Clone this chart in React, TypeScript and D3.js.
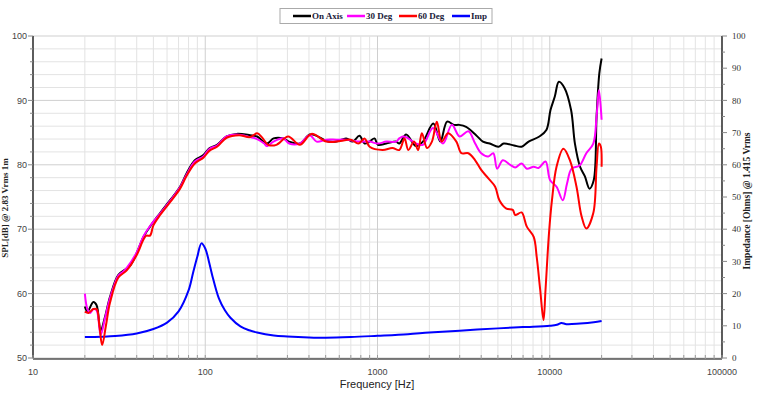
import React from 'react';
import * as d3 from 'd3';

// [frequency Hz, dB SPL]
const onAxis: [number, number][] = [
  [20, 58.0], [20.7, 57.2], [22.4, 58.7], [23.4, 58.2], [24.7, 54.3], [26.2, 56.4], [28, 59.5],
  [31.3, 62.9], [35, 63.9], [37, 64.5], [40, 66.3], [43.8, 68.8], [47.8, 70.4], [54.7, 72.5],
  [62.5, 74.5], [71.4, 76.6], [78, 78.7], [87, 80.7], [97.5, 81.5], [106, 82.6], [117, 83.1],
  [133, 84.4], [152, 84.8], [182, 84.6], [200, 84.4], [228, 83.3], [249, 84.1], [284, 84.1],
  [307, 83.6], [354, 83.3], [404, 84.7], [443, 84.5], [505, 83.7], [576, 83.6], [658, 84.1],
  [717, 83.6], [786, 84.5], [841, 83.3], [899, 83.6], [961, 84.1], [1005, 83.1], [1124, 83.3],
  [1283, 83.6], [1338, 83.3], [1466, 84.7], [1675, 82.9], [1834, 83.6], [2109, 86.4], [2315, 83.6],
  [2536, 86.7], [2778, 86.2], [2981, 86.2], [3270, 85.9], [3736, 84.6], [4093, 83.6], [4482, 83.3],
  [5035, 82.8], [5402, 83.3], [6206, 83.0], [6863, 82.8], [7536, 83.6], [8706, 84.4], [9556, 85.4],
  [10100, 88.5], [10700, 90.6], [11300, 92.9], [12200, 91.9], [13300, 88.5], [14000, 83.3],
  [15000, 79.7], [16000, 78.2], [17000, 76.3], [18000, 77.6], [18700, 87.5], [19400, 94.2], [20000, 96.5],
];

const deg30: [number, number][] = [
  [20, 60.0], [20.7, 57.6], [21.5, 57.0], [22.4, 57.6], [23.4, 57.4], [24.7, 53.6], [26.2, 56.2],
  [28, 59.3], [31.3, 62.8], [33, 63.3], [35, 64.0], [40, 66.4], [43.8, 68.9], [47.8, 70.5],
  [54.7, 72.4], [62.5, 74.4], [71.4, 76.5], [78, 78.5], [87, 80.5], [97.5, 81.3], [106, 82.5],
  [117, 83.0], [133, 84.4], [152, 84.7], [182, 84.3], [200, 84.0], [220, 83.3], [228, 82.9],
  [249, 83.6], [284, 84.1], [307, 83.3], [354, 83.3], [404, 84.6], [443, 83.6], [505, 83.9],
  [576, 83.9], [658, 83.9], [786, 83.6], [899, 83.6], [1005, 83.3], [1124, 83.6], [1283, 83.6],
  [1338, 84.1], [1400, 84.4], [1466, 84.3], [1675, 83.3], [1834, 83.1], [2100, 85.7], [2400, 83.3],
  [2700, 86.2], [3000, 84.4], [3370, 85.2], [3690, 83.3], [4000, 81.8], [4400, 81.3], [4700, 81.8],
  [4950, 79.4], [5340, 80.7], [5900, 80.0], [6300, 79.6], [6860, 80.2], [7360, 79.4], [8070, 79.7],
  [8600, 79.5], [9450, 80.5], [10050, 77.6], [10950, 76.6], [11900, 74.5], [12600, 77.1],
  [13400, 79.4], [14900, 79.9], [16300, 81.8], [17900, 83.3], [18700, 87.5], [19300, 91.6], [20000, 87.0],
];

const deg60: [number, number][] = [
  [20, 57.2], [21, 57.0], [22.4, 57.6], [23.4, 57.6], [24.3, 55.0], [25.2, 52.0], [26.5, 55.0],
  [28, 58.6], [31.3, 62.5], [35, 63.6], [40, 66.0], [43.8, 68.4], [45.5, 69.0], [47.8, 69.0],
  [50, 70.6], [54.7, 72.2], [62.5, 74.2], [71.4, 76.3], [78, 78.3], [87, 80.2], [97.5, 81.1],
  [106, 82.2], [117, 82.8], [133, 84.2], [157, 84.6], [182, 84.3], [200, 84.9], [213, 84.3],
  [232, 83.1], [259, 83.1], [303, 84.4], [354, 83.1], [414, 84.8], [505, 83.6], [610, 83.7],
  [700, 83.9], [775, 83.3], [841, 84.1], [900, 82.8], [1070, 82.3], [1220, 82.6], [1338, 82.3],
  [1435, 84.1], [1510, 82.3], [1630, 83.6], [1720, 82.3], [1810, 84.9], [1940, 82.6], [2070, 83.6],
  [2210, 86.7], [2360, 83.6], [2570, 84.9], [2870, 83.6], [3070, 81.8], [3370, 81.8], [3690, 80.7],
  [4000, 79.2], [4400, 77.9], [4820, 76.6], [5100, 74.5], [5600, 73.2], [6100, 73.0], [6300, 72.2],
  [6860, 72.6], [7360, 70.4], [8070, 68.8], [8400, 65.7], [8800, 60.6], [9200, 55.9], [9450, 60.6],
  [9900, 69.4], [10300, 74.5], [10950, 79.7], [12000, 82.5], [13100, 80.7], [14300, 76.6],
  [15300, 72.0], [16300, 70.1], [17900, 72.5], [18700, 79.7], [19300, 83.3], [19800, 82.8], [20000, 79.7],
];

// [frequency Hz, Ohms]
const impedance: [number, number][] = [
  [20, 6.5], [25, 6.6], [30, 6.8], [40, 7.6], [50, 9.0], [60, 11.0], [70, 14.5], [80, 21.0],
  [85, 26.5], [90, 31.5], [95, 35.6], [100, 34.0], [105, 30.0], [110, 25.5], [120, 18.5],
  [130, 14.8], [140, 12.5], [160, 9.8], [180, 8.6], [200, 7.9], [250, 7.0], [300, 6.7],
  [400, 6.4], [500, 6.3], [700, 6.5], [1000, 6.9], [1500, 7.4], [2000, 7.9], [3000, 8.5],
  [5000, 9.2], [7000, 9.6], [10000, 10.0], [11000, 10.3], [11700, 10.9], [12500, 10.5],
  [15000, 10.7], [18000, 11.1], [20000, 11.5],
];

const freqTicks = [10, 100, 1000, 10000, 100000];
const splTicks = [50, 60, 70, 80, 90, 100];
const impTicks = [0, 10, 20, 30, 40, 50, 60, 70, 80, 90, 100];

const series = [
  { name: 'On Axis', color: '#000000' },
  { name: '30 Deg', color: '#ff00ff' },
  { name: '60 Deg', color: '#ff0000' },
  { name: 'Imp', color: '#0000ff' },
];

const W = 761;
const H = 396;
const L = 33, R = 722, T = 36, B = 358;
const SERIF = '"Liberation Serif", "Times New Roman", serif';
const SANS = '"Liberation Sans", Arial, sans-serif';

export default function App() {
  const x = d3.scaleLog().domain([10, 100000]).range([L, R]);
  const ySpl = d3.scaleLinear().domain([50, 100]).range([B, T]);
  const yImp = d3.scaleLinear().domain([0, 100]).range([B, T]);

  const splLine = d3.line<[number, number]>()
    .x(d => x(d[0]))
    .y(d => ySpl(d[1]))
    .curve(d3.curveCatmullRom.alpha(0.5));
  const impLine = d3.line<[number, number]>()
    .x(d => x(d[0]))
    .y(d => yImp(d[1]))
    .curve(d3.curveCatmullRom.alpha(0.5));

  const minorX = x.ticks();
  const minorY = d3.range(50, 100.1, 2);

  // legend layout
  const legX = [293, 347, 399, 452];

  return (
    <svg width={W} height={H} style={{ position: 'absolute', left: 0, top: 0, background: '#fff' }}>
      {/* grid */}
      <g>
        {minorY.map(v => (
          <line key={'h' + v} x1={L} x2={R} y1={ySpl(v)} y2={ySpl(v)}
            stroke={v % 10 === 0 ? '#cfcfcf' : '#e3e3e3'} strokeWidth={1} />
        ))}
        {minorX.map(v => (
          <line key={'v' + v} x1={x(v)} x2={x(v)} y1={T} y2={B}
            stroke={freqTicks.includes(v) ? '#cfcfcf' : '#e3e3e3'} strokeWidth={1} />
        ))}
      </g>

      {/* axes lines */}
      <line x1={L} x2={L} y1={T} y2={B} stroke="#000" strokeWidth={1.2} />
      <line x1={R} x2={R} y1={T} y2={B} stroke="#000" strokeWidth={1.2} />
      <line x1={L} x2={R} y1={B + 1} y2={B + 1} stroke="#000" strokeWidth={1.2} />

      {/* left ticks */}
      {minorY.map(v => (
        <line key={'lt' + v} x1={L - (v % 10 === 0 ? 5 : 3)} x2={L} y1={ySpl(v)} y2={ySpl(v)} stroke="#888" />
      ))}
      {splTicks.map(v => (
        <text key={'ll' + v} x={27} y={ySpl(v)} dy="0.35em" textAnchor="end"
          fontFamily={SANS} fontSize={9} fill="#444">{v}</text>
      ))}

      {/* right ticks */}
      {d3.range(0, 100.1, 5).map(v => (
        <line key={'rt' + v} x1={R} x2={R + (v % 10 === 0 ? 5 : 3)} y1={yImp(v)} y2={yImp(v)} stroke="#888" />
      ))}
      {impTicks.map(v => (
        <text key={'rl' + v} x={732} y={yImp(v)} dy="0.35em" textAnchor="start"
          fontFamily={SERIF} fontSize={9} fill="#333">{v}</text>
      ))}

      {/* bottom ticks */}
      {minorX.map(v => (
        <line key={'bt' + v} x1={x(v)} x2={x(v)} y1={B - 3} y2={B + 1} stroke="#999" />
      ))}
      {freqTicks.map(v => (
        <text key={'bl' + v} x={x(v)} y={375} textAnchor="middle"
          fontFamily={SANS} fontSize={9} fill="#444">{v}</text>
      ))}

      {/* axis titles */}
      <text x={377} y={388} textAnchor="middle" fontFamily={SANS} fontSize={11} fill="#222">Frequency [Hz]</text>
      <text transform="translate(8,208) rotate(-90)" textAnchor="middle" fontFamily={SERIF}
        fontSize={9} fontWeight="bold" fill="#222">SPL[dB] @ 2.83 Vrms 1m</text>
      <text transform="translate(750,201) rotate(-90)" textAnchor="middle" fontFamily={SERIF}
        fontSize={9.5} fontWeight="bold" fill="#222">Impedance [Ohms] @ 1.415 Vrms</text>

      {/* curves */}
      <path d={impLine(impedance) ?? ''} fill="none" stroke="#0000ff" strokeWidth={2} />
      <path d={splLine(onAxis) ?? ''} fill="none" stroke="#000000" strokeWidth={2} />
      <path d={splLine(deg30) ?? ''} fill="none" stroke="#ff00ff" strokeWidth={2} />
      <path d={splLine(deg60) ?? ''} fill="none" stroke="#ff0000" strokeWidth={2} />

      {/* legend */}
      <rect x={280} y={8.5} width={212} height={15} fill="#fff" stroke="#aaa" strokeWidth={1} />
      {series.map((s, i) => (
        <g key={s.name}>
          <line x1={legX[i]} x2={legX[i] + 18} y1={16} y2={16} stroke={s.color} strokeWidth={2.5} />
          <text x={legX[i] + 19} y={16} dy="0.35em" fontFamily={SERIF} fontSize={9}
            fontWeight="bold" fill="#1a1a3a">{s.name}</text>
        </g>
      ))}
    </svg>
  );
}
